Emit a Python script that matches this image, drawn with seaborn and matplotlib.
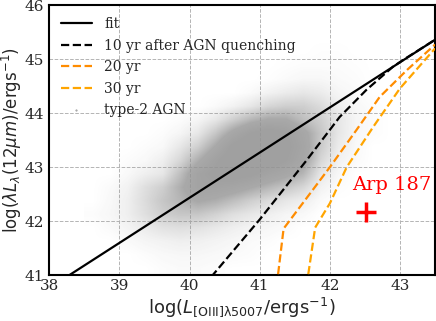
import numpy as np
import pandas as pd
from matplotlib import pyplot as plt
from matplotlib.colors import LinearSegmentedColormap
from matplotlib.lines import Line2D
import seaborn as sns

# fit and quenching tracks
fit_x = [38.0, 43.5]
fit_y = [40.76, 45.36]

q10_x = [40.20, 40.33, 41.00, 41.67, 42.14, 42.52, 42.90, 43.05, 43.50]
q10_y = [40.80, 41.00, 42.03, 43.13, 43.93, 44.43, 44.86, 44.99, 45.36]

q20_x = [41.25, 41.26, 41.34, 42.00, 42.38, 42.71, 43.10, 43.50]
q20_y = [40.80, 41.00, 41.86, 43.00, 43.69, 44.30, 44.80, 45.27]

q30_x = [41.68, 41.69, 41.79, 42.00, 42.24, 42.62, 43.00, 43.50]
q30_y = [40.80, 41.00, 41.88, 42.33, 43.00, 43.75, 44.46, 45.20]

arp_x = 42.51
arp_y = 42.17

# type-2 AGN point density, 0.25 dex cells, x 38.5-43.0, y rows from 45.5 down to 41.0
dens_x_edges = [38.5, 43.0]
dens_y_edges = [41.0, 45.5]
density = [
    [0, 0, 0, 0, 0, 0, 0, 0, 0, 0, 0, 0, 0, 0, 0, 0, 0, 0],
    [0, 0, 0, 0, 0, 0, 0, 0, 0, 0, 0, 0, 0, 0.1, 0.1, 0, 0, 0],
    [0, 0, 0, 0, 0, 0, 0, 0, 0, 0, 0, 0.1, 0.2, 0.2, 0.2, 0.1, 0, 0],
    [0, 0, 0, 0, 0, 0, 0, 0, 0, 0, 0.1, 0.3, 0.5, 0.5, 0.3, 0.2, 0, 0],
    [0, 0, 0, 0, 0, 0, 0, 0, 0, 0.3, 0.8, 1.2, 1.5, 1.2, 0.6, 0.3, 0, 0],
    [0, 0, 0, 0, 0, 0, 0, 0.3, 0.8, 1.5, 2.5, 3.0, 3.0, 2.2, 1.0, 0.4, 0.2, 0],
    [0, 0, 0, 0, 0, 0.2, 0.6, 1.5, 3.0, 4.5, 5.5, 5.5, 4.0, 3.0, 1.5, 0.6, 0.2, 0],
    [0, 0, 0, 0, 0.2, 0.6, 1.5, 3.5, 6.0, 8.0, 9.0, 8.0, 6.0, 3.5, 1.5, 0.5, 0.2, 0],
    [0, 0, 0, 0.2, 0.4, 1.5, 3.0, 5.5, 8.5, 10, 10, 8.5, 6.5, 3.2, 1.2, 0.4, 0, 0],
    [0, 0, 0.2, 0.4, 1.0, 2.5, 5.0, 7.5, 9.5, 10, 9.5, 8.0, 6.0, 2.5, 0.8, 0.3, 0, 0],
    [0, 0, 0.4, 1.0, 1.5, 4.0, 7.0, 8.5, 9.0, 8.5, 7.0, 6.0, 4.5, 1.5, 0.5, 0, 0, 0],
    [0, 0.3, 0.8, 2.0, 3.0, 5.0, 7.0, 7.0, 6.5, 5.5, 4.5, 3.5, 2.5, 0.8, 0.2, 0, 0, 0],
    [0, 0.4, 1.0, 2.2, 3.5, 4.5, 5.5, 5.0, 4.0, 3.0, 2.2, 1.5, 1.0, 0.3, 0, 0, 0, 0],
    [0.2, 0.5, 1.0, 2.0, 3.0, 3.5, 3.5, 2.8, 2.0, 1.5, 1.0, 0.6, 0.4, 0, 0, 0, 0, 0],
    [0, 0.3, 0.7, 1.2, 1.8, 2.0, 1.8, 1.4, 1.0, 0.7, 0.5, 0.3, 0, 0, 0, 0, 0, 0],
    [0, 0, 0.3, 0.6, 0.8, 1.0, 0.9, 0.7, 0.5, 0.3, 0.2, 0, 0, 0, 0, 0, 0, 0],
    [0, 0, 0, 0.2, 0.4, 0.5, 0.5, 0.4, 0.3, 0.2, 0, 0, 0, 0, 0, 0, 0, 0],
    [0, 0, 0, 0, 0.2, 0.3, 0.3, 0.2, 0, 0, 0, 0, 0, 0, 0, 0, 0, 0],
]

sns.set_style("white")
plt.rcParams['font.family'] = ['DejaVu Serif']
plt.rcParams['mathtext.fontset'] = 'dejavusans'

fig, ax = plt.subplots(figsize=(4.36, 3.21), dpi=100)
fig.subplots_adjust(left=0.113, right=0.998, top=0.984, bottom=0.143)

grey = (0.58, 0.58, 0.58)
cloud_cmap = LinearSegmentedColormap.from_list(
    'cloud', [grey + (0.0,), grey + (0.4,), grey + (0.8,), grey + (0.88,)])
ax.imshow(np.array(density), extent=dens_x_edges + dens_y_edges, origin='upper',
          cmap=cloud_cmap, vmin=0, vmax=8, interpolation='bilinear', aspect='auto', zorder=1)

lines = pd.DataFrame({'x': fit_x, 'y': fit_y})
sns.lineplot(data=lines, x='x', y='y', color='black', lw=1.6, ax=ax, sort=False, zorder=3)
sns.lineplot(x=q10_x, y=q10_y, color='black', lw=1.6, ls='--', ax=ax, sort=False, zorder=3)
sns.lineplot(x=q20_x, y=q20_y, color='darkorange', lw=1.6, ls='--', ax=ax, sort=False, zorder=3)
sns.lineplot(x=q30_x, y=q30_y, color='orange', lw=1.6, ls='--', ax=ax, sort=False, zorder=3)

ax.plot([arp_x], [arp_y], marker='+', color='red', ms=15, mew=2.5, ls='none', zorder=4)
ax.text(arp_x - 0.2, arp_y + 0.33, 'Arp 187', color='red', fontsize=14, va='bottom', ha='left')

handles = [
    Line2D([], [], color='black', lw=1.6),
    Line2D([], [], color='black', lw=1.6, ls='--'),
    Line2D([], [], color='darkorange', lw=1.6, ls='--'),
    Line2D([], [], color='orange', lw=1.6, ls='--'),
    Line2D([], [], color=grey, marker='.', ms=1, ls='none'),
]
labels = ['fit', '10 yr after AGN quenching', '20 yr', '30 yr', 'type-2 AGN']
ax.legend(handles, labels, loc='upper left', frameon=False, fontsize=10,
          handlelength=2.2, labelspacing=0.55, borderaxespad=0.45, handletextpad=0.9)

ax.set_xlim(38, 43.5)
ax.set_ylim(41, 46)
ax.set_xticks([38, 39, 40, 41, 42, 43])
ax.set_yticks([41, 42, 43, 44, 45, 46])
ax.grid(True, ls='--', lw=0.7, color='#b4b4b4')
ax.set_axisbelow(True)
ax.tick_params(length=0, labelsize=11)
ax.tick_params(axis='x', pad=3)
ax.tick_params(axis='y', pad=4)
for sp in ax.spines.values():
    sp.set_linewidth(1.5)
    sp.set_color('black')

ax.set_xlabel(r'log($L_{\rm [OIII]\lambda5007}$/ergs$^{-1}$)', family='DejaVu Sans',
              fontsize=13, labelpad=1)
ax.set_ylabel(r'log($\lambda L_{\lambda}(12\mu m)$/ergs$^{-1}$)', family='DejaVu Sans',
              fontsize=12, labelpad=0)

plt.savefig('out.png', dpi=100)
